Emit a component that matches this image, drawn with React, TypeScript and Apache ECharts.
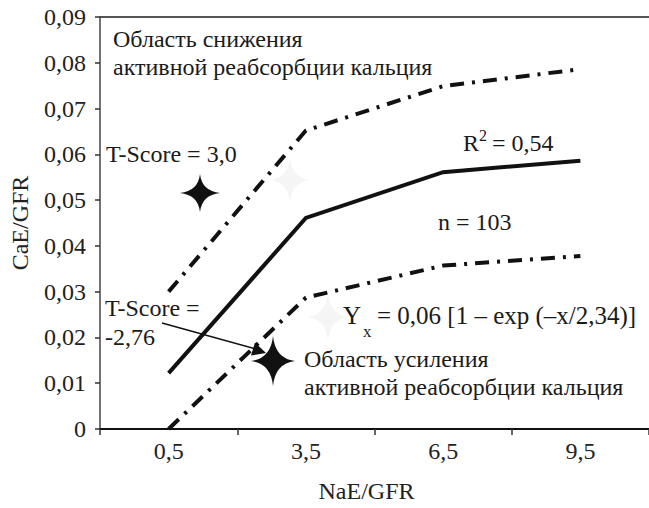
import React, { useEffect, useRef } from "react";
import * as echarts from "echarts";

const categories = ["0,5", "3,5", "6,5", "9,5"];
const upperValues = [0.03, 0.0652, 0.0749, 0.0786];
const fitValues = [0.0122, 0.0461, 0.0561, 0.0586];
const lowerValues = [0.0, 0.0287, 0.0357, 0.0378];
const yMin = 0;
const yMax = 0.09;
const yInterval = 0.01;

const FONT = "Liberation Serif";

echarts.graphic.registerShape(
  "star4",
  echarts.graphic.extendPath(
    "M0,-100 Q10,-10 100,0 Q10,10 0,100 Q-10,10 -100,0 Q-10,-10 0,-100 Z",
    {}
  )
);

const txt = (text: string, x: number, y: number, size = 24, color = "#1a1a1a") => ({
  type: "text",
  x,
  y,
  z: 100,
  style: {
    text,
    fill: color,
    fontFamily: FONT,
    fontSize: size,
    textAlign: "left",
    textVerticalAlign: "middle",
  },
});

export default function App() {
  const ref = useRef<HTMLDivElement>(null);
  useEffect(() => {
    if (!ref.current) return;
    const chart = echarts.init(ref.current, null, { renderer: "svg" });
    const dashDot = [14, 8, 3, 8];
    const option: any = {
      animation: false,
      backgroundColor: "#ffffff",
      textStyle: { fontFamily: FONT },
      grid: { left: 96, top: 17, width: 558, height: 414, containLabel: false },
      xAxis: [
        {
          type: "category",
          data: categories,
          boundaryGap: true,
          position: "bottom",
          axisLine: { show: true, lineStyle: { color: "#111", width: 2 } },
          axisTick: { show: true, inside: false, length: 6, lineStyle: { color: "#333", width: 1.5 } },
          axisLabel: { fontFamily: FONT, fontSize: 24, color: "#222", margin: 10 },
          name: "NaE/GFR",
          nameLocation: "middle",
          nameGap: 50,
          nameTextStyle: { fontFamily: FONT, fontSize: 24, color: "#222", padding: [0, 16, 0, 0] },
          splitLine: { show: false },
        },
        {
          type: "category",
          data: categories,
          position: "top",
          axisLine: { show: true, lineStyle: { color: "#555", width: 2 } },
          axisTick: { show: false },
          axisLabel: { show: false },
          splitLine: { show: false },
        },
      ],
      yAxis: {
        type: "value",
        min: yMin,
        max: yMax,
        interval: yInterval,
        axisLine: { show: true, lineStyle: { color: "#444", width: 1.5 } },
        axisTick: { show: true, inside: false, length: 5, lineStyle: { color: "#333", width: 1.5 } },
        axisLabel: {
          fontFamily: FONT,
          fontSize: 24,
          color: "#222",
          margin: 14,
          formatter: (v: number) => (v === 0 ? "0" : v.toFixed(2).replace(".", ",")),
        },
        splitLine: { show: false },
        name: "CaE/GFR",
        nameLocation: "middle",
        nameGap: 68,
        nameTextStyle: { fontFamily: FONT, fontSize: 24, color: "#222" },
      },
      series: [
        {
          type: "line",
          data: upperValues,
          symbol: "none",
          lineStyle: { color: "#111", width: 4, type: dashDot, cap: "butt" },
        },
        {
          type: "line",
          data: fitValues,
          symbol: "none",
          lineStyle: { color: "#111", width: 4, type: "solid", join: "miter" },
        },
        {
          type: "line",
          data: lowerValues,
          symbol: "none",
          lineStyle: { color: "#111", width: 4, type: dashDot, cap: "butt" },
        },
      ],
      graphic: [
        { type: "star4", x: 290, y: 180, scaleX: 0.2, scaleY: 0.22, z: 1, style: { fill: "#f5f5f5" } },
        { type: "star4", x: 328, y: 317, scaleX: 0.2, scaleY: 0.24, z: 1, style: { fill: "#f5f5f5" } },
        { type: "star4", x: 200, y: 193, scaleX: 0.2, scaleY: 0.19, z: 90, style: { fill: "#111" } },
        { type: "star4", x: 273, y: 361, scaleX: 0.22, scaleY: 0.25, z: 90, style: { fill: "#111" } },
        {
          type: "line",
          z: 90,
          shape: { x1: 162, y1: 323, x2: 256, y2: 349 },
          style: { stroke: "#111", lineWidth: 1.5 },
        },
        {
          type: "polygon",
          z: 90,
          shape: { points: [[266, 353], [251, 355.5], [255, 342.5]] },
          style: { fill: "#111" },
        },
        txt("Область снижения", 113, 39),
        txt("активной реабсорбции кальция", 113, 67),
        txt("T-Score = 3,0", 106, 154),
        txt("R", 463, 143),
        txt("2", 479, 135, 16),
        txt("= 0,54", 492, 143),
        txt("n = 103", 438, 222),
        txt("Y", 343, 315, 25),
        txt("x", 363, 331, 17),
        txt("= 0,06 [1 – exp (–x/2,34)]", 377, 315, 25),
        txt("T-Score =", 105, 308),
        txt("-2,76", 105, 337),
        txt("Область усиления", 304, 359),
        txt("активной реабсорбции кальция", 304, 387),
      ],
    };
    chart.setOption(option);
    return () => chart.dispose();
  }, []);
  return (
    <div
      ref={ref}
      style={{ position: "fixed", left: 0, top: 0, width: 649, height: 508, background: "#fff" }}
    />
  );
}
